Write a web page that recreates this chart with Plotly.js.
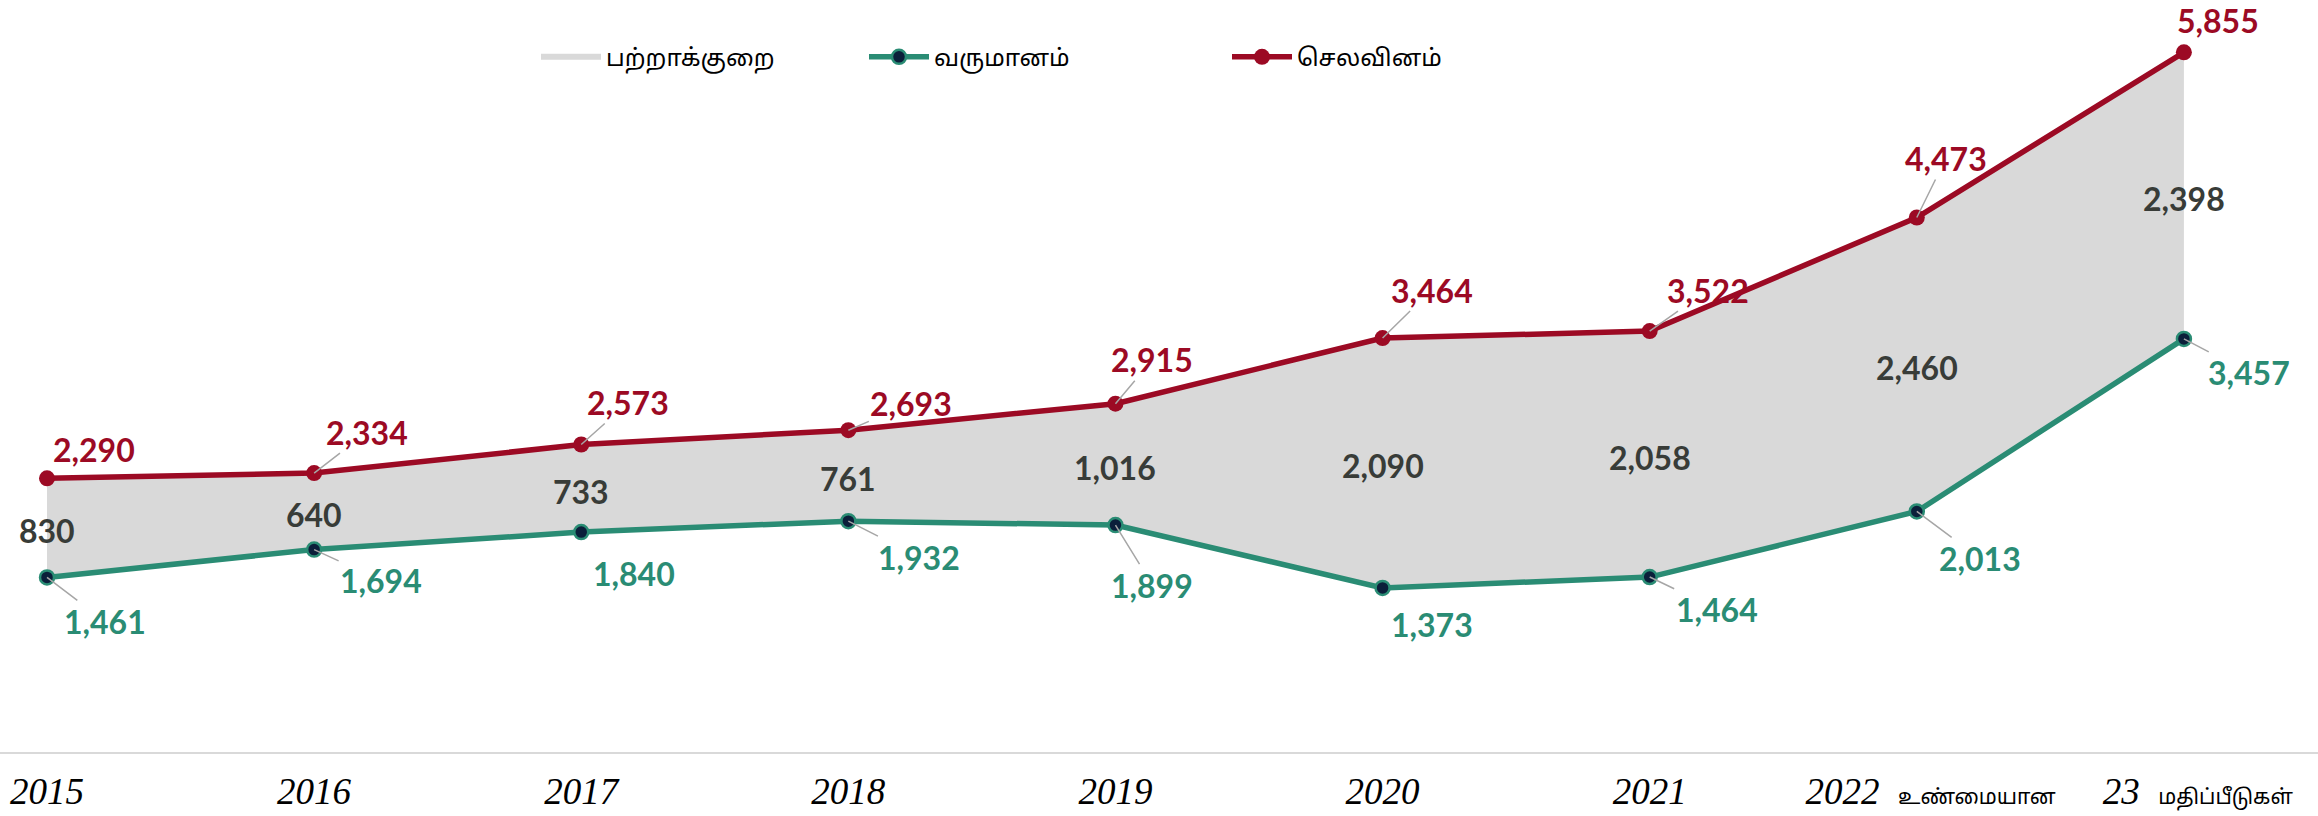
<!DOCTYPE html>
<html>
<head>
<meta charset="utf-8">
<script src="https://cdn.plot.ly/plotly-3.0.1.min.js"></script>
<style>
  html, body { margin: 0; padding: 0; background: #ffffff; }
  #chart { width: 2318px; height: 816px; }
</style>
</head>
<body>
<div id="chart"></div>
<script>
// values (Rs. billion)
const years = ['2015', '2016', '2017', '2018', '2019', '2020', '2021', '2022', '2023'];
const income = [1461, 1694, 1840, 1932, 1899, 1373, 1464, 2013, 3457];
const expenditure = [2290, 2334, 2573, 2693, 2915, 3464, 3522, 4473, 5855];
const deficit = [830, 640, 733, 761, 1016, 2090, 2058, 2460, 2398];
const tickLabels = ['2015', '2016', '2017', '2018', '2019', '2020', '2021',
  '2022 உண்மையான', '23 மதிப்பீடுகள்'];

const names = { deficit: 'பற்றாக்குறை', income: 'வருமானம்', expenditure: 'செலவினம்' };

const RED = '#9c0a24';
const GREEN = '#2a8c74';
const NAVY = '#0b1f3a';
const GAPTEXT = '#383c38';
const TAMIL = '"Noto Sans Tamil", "Noto Serif Tamil", "Lohit Tamil", "Noto Sans", sans-serif';
const LABEL_FONT = 'Lato, "Open Sans", sans-serif';

// label placement (pixel offsets from the point) and whether a leader line is drawn
const expOffsets = [[47, -29], [53, -41], [47, -42], [63, -27], [37, -44], [49, -48], [58, -41], [29, -59], [34, -32]];
const expLeader = [false, true, true, true, true, true, true, true, false];
const incOffsets = [[58, 44], [67, 31], [53, 41], [71, 36], [37, 60], [49, 37], [67, 32], [63, 47], [65, 34]];
const incLeader = [true, true, false, true, true, false, true, true, true];

const fmt = v => v.toLocaleString('en-US');

function splitLabel(label) {
  const parts = label.split(' ');
  if (parts.length < 2) return label;
  return '&nbsp;&nbsp;&nbsp;' + parts[0] + '&nbsp;&nbsp;<span style="font-size:21px;font-style:normal;font-family:' +
    TAMIL.replace(/"/g, "'") + '">' + parts.slice(1).join(' ') + '</span>';
}

// x is the category index: numeric-looking category names would be read as indices
function pointLabel(i, value, offset, leader, color) {
  const a = {
    x: i,
    y: value,
    text: fmt(value),
    font: { family: LABEL_FONT, size: 32, color: color, weight: 'bold' },
    showarrow: leader,
  };
  if (leader) {
    a.ax = offset[0];
    a.ay = offset[1];
    a.arrowhead = 0;
    a.arrowwidth = 1.5;
    a.arrowcolor = '#a6a6a6';
  } else {
    a.xshift = offset[0];
    a.yshift = -offset[1];
  }
  return a;
}

const annotations = [];
years.forEach((y, i) => {
  annotations.push(pointLabel(i, expenditure[i], expOffsets[i], expLeader[i], RED));
  annotations.push(pointLabel(i, income[i], incOffsets[i], incLeader[i], GREEN));
  annotations.push({
    x: i,
    y: (expenditure[i] + income[i]) / 2,
    text: fmt(deficit[i]),
    font: { family: LABEL_FONT, size: 32, color: GAPTEXT, weight: 'bold' },
    showarrow: false,
    yshift: -3,
  });
});

const traces = [
  {
    x: years, y: income, mode: 'lines',
    line: { width: 0, color: GREEN },
    showlegend: false, hoverinfo: 'skip',
  },
  {
    x: years, y: expenditure, mode: 'none',
    fill: 'tonexty', fillcolor: '#d9d9d9',
    name: names.deficit, legend: 'legend', hoverinfo: 'skip',
  },
  {
    x: years, y: income, mode: 'lines+markers',
    name: names.income, legend: 'legend2',
    line: { color: GREEN, width: 5.5 },
    marker: { size: 14, color: NAVY, line: { color: GREEN, width: 2.5 } },
  },
  {
    x: years, y: expenditure, mode: 'lines+markers',
    name: names.expenditure, legend: 'legend3',
    line: { color: RED, width: 5.5 },
    marker: { size: 16, color: RED },
  },
];

const legendBase = {
  orientation: 'h',
  yanchor: 'middle',
  y: 0.969,
  xanchor: 'left',
  bgcolor: 'rgba(0,0,0,0)',
  font: { family: TAMIL, size: 24, color: '#000000' },
  itemwidth: 60,
};

const layout = {
  width: 2318,
  height: 816,
  margin: { l: 0, r: 0, t: 35, b: 64 },
  paper_bgcolor: '#ffffff',
  plot_bgcolor: '#ffffff',
  showlegend: true,
  legend: Object.assign({}, legendBase, { x: 536 / 2318 }),
  legend2: Object.assign({}, legendBase, { x: 864 / 2318 }),
  legend3: Object.assign({}, legendBase, { x: 1227 / 2318 }),
  xaxis: {
    type: 'category',
    range: [-0.176, 8.502],
    tickvals: years,
    ticktext: tickLabels.map(splitLabel),
    tickfont: { family: '"Liberation Serif", "Times New Roman", serif', size: 37, color: '#000000', style: 'italic' },
    ticks: '',
    ticklabelstandoff: 6,
    showline: true,
    linecolor: '#d9d9d9',
    linewidth: 2,
    showgrid: false,
    zeroline: false,
    fixedrange: true,
  },
  yaxis: {
    range: [0, 6000],
    visible: false,
    showgrid: false,
    zeroline: false,
    fixedrange: true,
  },
  annotations: annotations,
  hovermode: false,
};

Plotly.newPlot('chart', traces, layout, { displayModeBar: false, staticPlot: true });
</script>
</body>
</html>
